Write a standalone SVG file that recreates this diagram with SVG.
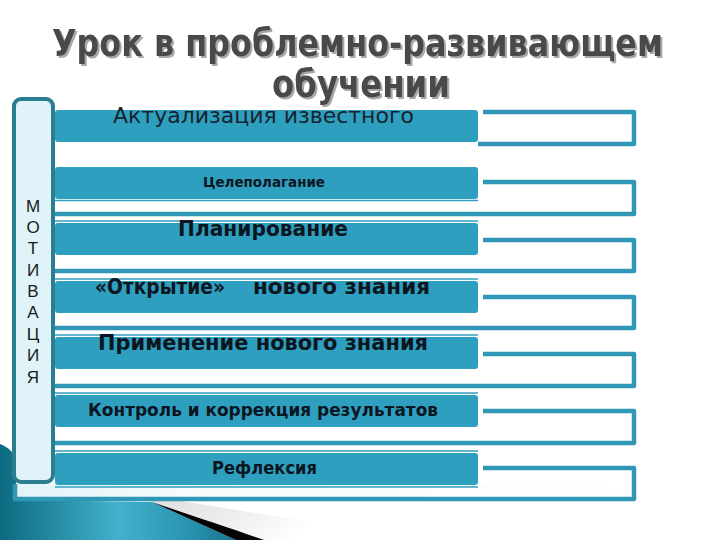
<svg xmlns="http://www.w3.org/2000/svg" width="720" height="540" viewBox="0 0 720 540">
  <defs>
    <linearGradient id="teal" x1="0" y1="0" x2="1" y2="0">
      <stop offset="0" stop-color="#0d6a80"/>
      <stop offset="0.5" stop-color="#43b2cd"/>
      <stop offset="0.8" stop-color="#2a93b0"/>
      <stop offset="1" stop-color="#17758e"/>
    </linearGradient>
    <linearGradient id="grey" x1="0" y1="0" x2="1" y2="0.3">
      <stop offset="0" stop-color="#d4d4d4"/>
      <stop offset="0.6" stop-color="#ececec"/>
      <stop offset="1" stop-color="#ffffff"/>
    </linearGradient>
    <linearGradient id="pale" x1="0" y1="0" x2="1" y2="0">
      <stop offset="0" stop-color="#e2f3f8"/>
      <stop offset="0.3" stop-color="#f7fbfc"/>
      <stop offset="1" stop-color="#ffffff"/>
    </linearGradient>
    <filter id="shadow" x="-5%" y="-20%" width="110%" height="150%">
      <feDropShadow dx="2" dy="2" stdDeviation="0.6" flood-color="#a8a8a8" flood-opacity="1"/>
    </filter>
    <style>
      .band { fill: #2f9fc0; }
      .thin { stroke: #2f9fc0; stroke-width: 1.5; fill: none; }
      .outline { fill: none; stroke: #3197b7; stroke-width: 4.5; stroke-linejoin: round; }
      .bar { fill: #dff3f8; stroke: #2b7e8f; stroke-width: 4; }
      .lbl { font-family: "DejaVu Sans", "Liberation Sans", sans-serif; font-weight: bold; fill: #0b1620; }
      .reg { font-family: "DejaVu Sans", "Liberation Sans", sans-serif; fill: #16232e; }
      .mot { font-family: "Liberation Sans", "DejaVu Sans", sans-serif; font-size: 17px; fill: #1a1a1a; text-anchor: middle; }
      .title { font-family: "DejaVu Sans Condensed", "DejaVu Sans", sans-serif; font-weight: bold; font-size: 37px; fill: #4a4a4a; filter: url(#shadow); }
    </style>
  </defs>
  <rect width="720" height="540" fill="#ffffff"/>

  <g id="decoration">
    <path d="M100,489 C180,500 260,514 345,528 L345,540 L264,540 C230,528 190,515 152,502 Z" fill="url(#grey)"/>
    <path d="M0,444 C8,447 14,452 16,460 L16,500 L152,502 L236,540 L0,540 Z" fill="url(#teal)"/>
    <path d="M152,502 C190,515 230,528 264,540 L236,540 Z" fill="#050505"/>
    <rect x="16" y="484" width="618" height="14" fill="url(#pale)"/>
  </g>

  <g id="connectors">
    <path class="outline" d="M483,112 H634 V144 H478"/>
    <path class="outline" d="M483,182 H634 V214 H15"/>
    <path class="outline" d="M483,240 H634 V271 H15"/>
    <path class="outline" d="M483,297 H634 V328 H15"/>
    <path class="outline" d="M483,354 H634 V386 H15"/>
    <path class="outline" d="M483,411 H634 V443 H15"/>
    <path class="outline" d="M483,468 H634 V499 H15 V484" stroke-width="3.5"/>
  </g>

  <g id="row1">
    <rect class="band" x="55" y="110" width="423" height="32" rx="3"/>
  </g>
  <g id="row2">
    <rect class="band" x="55" y="167" width="423" height="32" rx="3"/>
    <line class="thin" x1="55" y1="200.5" x2="478" y2="200.5"/>
    <text class="lbl" x="203" y="187" font-size="14" textLength="122" lengthAdjust="spacingAndGlyphs">Целеполагание</text>
  </g>
  <g id="row3">
    <rect class="band" x="55" y="223" width="423" height="32" rx="3"/>
    <line class="thin" x1="55" y1="221" x2="478" y2="221"/>
    <text class="lbl" x="178" y="236" font-size="22" textLength="170" lengthAdjust="spacingAndGlyphs">Планирование</text>
  </g>
  <g id="row4">
    <rect class="band" x="55" y="281" width="423" height="32" rx="3"/>
    <line class="thin" x1="55" y1="279" x2="478" y2="279"/>
    <text class="lbl" y="294" font-size="21"><tspan x="95" textLength="130" lengthAdjust="spacingAndGlyphs">«Открытие»</tspan><tspan x="253" textLength="177" lengthAdjust="spacingAndGlyphs">нового знания</tspan></text>
  </g>
  <g id="row5">
    <rect class="band" x="55" y="337" width="423" height="32" rx="3"/>
    <line class="thin" x1="55" y1="335" x2="478" y2="335"/>
    <text class="lbl" x="98" y="350" font-size="21" textLength="330" lengthAdjust="spacingAndGlyphs">Применение нового знания</text>
  </g>
  <g id="row6">
    <rect class="band" x="55" y="395" width="423" height="32" rx="3"/>
    <line class="thin" x1="55" y1="393" x2="478" y2="393"/>
    <text class="lbl" x="88" y="416" font-size="18" textLength="350" lengthAdjust="spacingAndGlyphs">Контроль и коррекция результатов</text>
  </g>
  <g id="row7">
    <rect class="band" x="55" y="453" width="423" height="32" rx="3"/>
    <line class="thin" x1="55" y1="451" x2="478" y2="451"/>
    <line class="thin" x1="55" y1="487" x2="478" y2="487"/>
    <text class="lbl" x="212" y="474" font-size="18" textLength="105" lengthAdjust="spacingAndGlyphs">Рефлексия</text>
  </g>

  <g id="motivation">
    <rect class="bar" x="14" y="99" width="39" height="383" rx="7"/>
    <text class="mot" x="33" y="212">М</text>
    <text class="mot" x="33" y="233">О</text>
    <text class="mot" x="33" y="254">Т</text>
    <text class="mot" x="33" y="276">И</text>
    <text class="mot" x="33" y="297">В</text>
    <text class="mot" x="33" y="318">А</text>
    <text class="mot" x="33" y="340">Ц</text>
    <text class="mot" x="33" y="361">И</text>
    <text class="mot" x="33" y="383">Я</text>
  </g>

  <g id="title">
    <text class="title" x="52" y="56" textLength="611" lengthAdjust="spacingAndGlyphs">Урок в проблемно-развивающем</text>
    <text class="title" x="272" y="97" textLength="178" lengthAdjust="spacingAndGlyphs">обучении</text>
  </g>

  <g id="row1-label">
    <text class="reg" x="113" y="123" font-size="21" textLength="301" lengthAdjust="spacingAndGlyphs">Актуализация известного</text>
  </g>
</svg>
